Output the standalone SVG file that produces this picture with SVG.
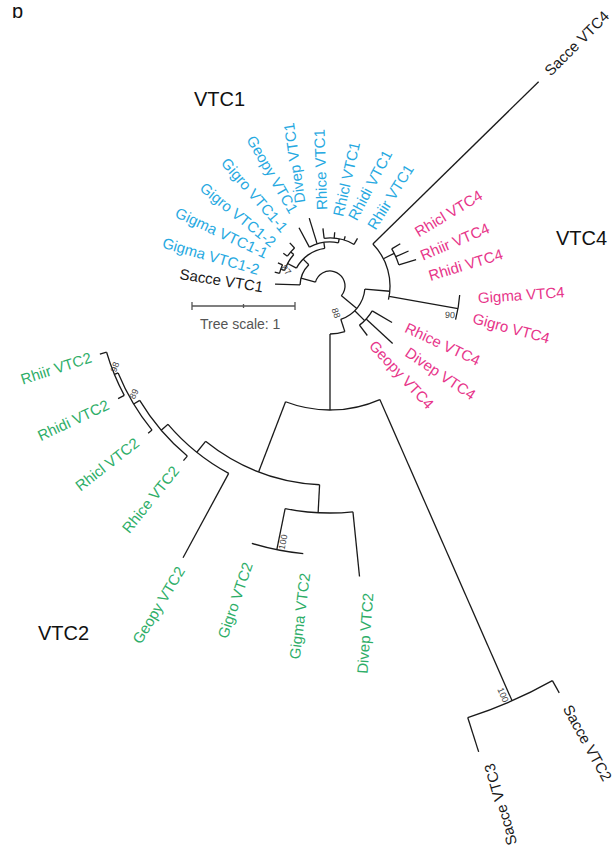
<svg xmlns="http://www.w3.org/2000/svg" width="613" height="852" viewBox="0 0 613 852">
<style>
.br line,.br circle{fill:none;stroke:#1a1a1a;stroke-width:1.3}
text{font-family:"Liberation Sans",Arial,sans-serif}
.lb{font-size:15px}
.e{text-anchor:end}
.v1{fill:#27a9e1}.v4{fill:#e7358a}.v2{fill:#2eae68}.k{fill:#1a1a1a}
.bs{font-size:9px;fill:#444;text-anchor:middle}
.grp{font-size:20px;fill:#111}
</style>
<defs><clipPath id="cut"><rect x="0" y="7" width="60" height="30"/></clipPath></defs>
<text x="12" y="18" font-size="20" fill="#111" clip-path="url(#cut)">b</text>

<!-- branches: polar layout around the root -->
<g id="branches" class="br" transform="translate(330,286)">
 <!-- root -->
 <circle r="15" transform="rotate(195)" stroke-dasharray="53.67 9999"/>
 <!-- VTC1 clade -->
 <line x1="15" x2="30" transform="rotate(195)"/>
 <circle r="30" transform="rotate(182)" stroke-dasharray="22.51 9999"/>
 <line x1="30" x2="55" transform="rotate(182)"/>
 <line x1="30" x2="38" transform="rotate(225)"/>
 <circle r="38" transform="rotate(208)" stroke-dasharray="35.81 9999"/>
 <line x1="38" x2="48" transform="rotate(208)"/>
 <circle r="48" transform="rotate(199)" stroke-dasharray="18.43 9999"/>
 <line x1="48" x2="52" transform="rotate(199)"/>
 <circle r="52" transform="rotate(194)" stroke-dasharray="9.08 9999"/>
 <line x1="52" x2="57" transform="rotate(194)"/>
 <line x1="52" x2="57" transform="rotate(204)"/>
 <line x1="48" x2="52" transform="rotate(221)"/>
 <circle r="52" transform="rotate(215)" stroke-dasharray="10.89 9999"/>
 <line x1="52" x2="57" transform="rotate(215)"/>
 <line x1="52" x2="59" transform="rotate(227)"/>
 <line x1="38" x2="44" transform="rotate(262)"/>
 <circle r="44" transform="rotate(242)" stroke-dasharray="29.95 9999"/>
 <line x1="44" x2="66" transform="rotate(242)"/>
 <line x1="44" x2="71" transform="rotate(253)"/>
 <line x1="44" x2="48" transform="rotate(281)"/>
 <circle r="48" transform="rotate(263)" stroke-dasharray="31 9999"/>
 <line x1="48" x2="58" transform="rotate(263)"/>
 <line x1="48" x2="54" transform="rotate(275)"/>
 <line x1="48" x2="52" transform="rotate(287)"/>
 <line x1="48" x2="55" transform="rotate(300)"/>
 <!-- right part of root -->
 <line x1="15" x2="35" transform="rotate(40)"/>
 <circle r="35" transform="rotate(5)" stroke-dasharray="40.93 9999"/>
 <!-- VTC4 clade -->
 <line x1="35" x2="60" transform="rotate(5)"/>
 <circle r="60" transform="rotate(-44.4)" stroke-dasharray="60.1 9999"/>
 <line x1="60" x2="292" transform="rotate(-44.4)"/>
 <line x1="60" x2="72" transform="rotate(-27)"/>
 <circle r="72" transform="rotate(-31)" stroke-dasharray="17.59 9999"/>
 <line x1="72" x2="82" transform="rotate(-31)"/>
 <line x1="72" x2="86" transform="rotate(-24)"/>
 <line x1="72" x2="90" transform="rotate(-17)"/>
 <line x1="60" x2="130" transform="rotate(10)"/>
 <circle r="130" transform="rotate(4)" stroke-dasharray="24.96 9999"/>
 <line x1="35" x2="49" transform="rotate(45)"/>
 <circle r="49" transform="rotate(30.5)" stroke-dasharray="19.24 9999"/>
 <line x1="49" x2="72" transform="rotate(30.5)"/>
 <line x1="49" x2="85" transform="rotate(42.5)"/>
 <line x1="49" x2="62" transform="rotate(53)"/>
 <!-- VTC2 + VTC3 -->
 <line x1="35" x2="48" transform="rotate(72)"/>
 <circle r="48" transform="rotate(72)" stroke-dasharray="15.08 9999"/>
 <line x1="48" x2="124" transform="rotate(90)"/>
 <circle r="124" transform="rotate(66.3)" stroke-dasharray="96.74 9999"/>
 <line x1="124" x2="453" transform="rotate(66.3)"/>
 <circle r="453" transform="rotate(60.6)" stroke-dasharray="92.5 9999"/>
 <line x1="453" x2="467" transform="rotate(60.6)"/>
 <line x1="453" x2="489" transform="rotate(72.3)"/>
 <line x1="124" x2="199" transform="rotate(111)"/>
 <circle r="199" transform="rotate(93)" stroke-dasharray="124 9999"/>
 <line x1="199" x2="227" transform="rotate(93)"/>
 <circle r="227" transform="rotate(84.2)" stroke-dasharray="68.14 9999"/>
 <line x1="227" x2="292" transform="rotate(84.2)"/>
 <line x1="227" x2="269" transform="rotate(101.4)"/>
 <circle r="269" transform="rotate(95.7)" stroke-dasharray="52.58 9999"/>
 <line x1="199" x2="213" transform="rotate(128.7)"/>
 <circle r="213" transform="rotate(118.4)" stroke-dasharray="78.44 9999"/>
 <line x1="213" x2="309" transform="rotate(118.4)"/>
 <line x1="213" x2="222" transform="rotate(139.5)"/>
 <circle r="222" transform="rotate(130)" stroke-dasharray="73.62 9999"/>
 <line x1="222" x2="228" transform="rotate(130)"/>
 <line x1="222" x2="229" transform="rotate(149)"/>
 <circle r="229" transform="rotate(141)" stroke-dasharray="66.75 9999"/>
 <line x1="229" x2="234" transform="rotate(141)"/>
 <line x1="229" x2="233" transform="rotate(157.7)"/>
 <circle r="233" transform="rotate(152)" stroke-dasharray="46.77 9999"/>
 <line x1="233" x2="240" transform="rotate(152)"/>
 <line x1="233" x2="240" transform="rotate(163.5)"/>
</g>

<!-- support values -->
<g id="support">
 <text class="bs" transform="translate(286,270) rotate(50)" dy="3">87</text>
 <text class="bs" transform="translate(336,313) rotate(72)" dy="3">88</text>
 <text class="bs" transform="translate(450,315) rotate(4)" dy="3">90</text>
 <text class="bs" transform="translate(115,367) rotate(-70)" dy="3">98</text>
 <text class="bs" transform="translate(134,394) rotate(-65)" dy="3">89</text>
 <text class="bs" transform="translate(283,542) rotate(-79)" dy="3">100</text>
 <text class="bs" transform="translate(503,695) rotate(66)" dy="3">100</text>
</g>

<!-- VTC1 leaves -->
<g id="sacce-vtc1"><text class="lb k e" transform="translate(263,287) rotate(9)" dy=".35em">Sacce VTC1</text></g>
<g id="gigma-vtc1-2"><text class="lb v1 e" transform="translate(259,270) rotate(16)" dy=".35em">Gigma VTC1-2</text></g>
<g id="gigma-vtc1-1"><text class="lb v1 e" transform="translate(267,254) rotate(25)" dy=".35em">Gigma VTC1-1</text></g>
<g id="gigro-vtc1-2"><text class="lb v1 e" transform="translate(274,244) rotate(39)" dy=".35em">Gigro VTC1-2</text></g>
<g id="gigro-vtc1-1"><text class="lb v1 e" transform="translate(285,230) rotate(49)" dy=".35em">Gigro VTC1-1</text></g>
<g id="geopy-vtc1"><text class="lb v1 e" transform="translate(294,212) rotate(60)" dy=".35em">Geopy VTC1</text></g>
<g id="divep-vtc1"><text class="lb v1" transform="translate(300,203) rotate(-98)" dy=".35em">Divep VTC1</text></g>
<g id="rhice-vtc1"><text class="lb v1" transform="translate(322,210) rotate(-92)" dy=".35em">Rhice VTC1</text></g>
<g id="rhicl-vtc1"><text class="lb v1" transform="translate(338,216) rotate(-77)" dy=".35em">Rhicl VTC1</text></g>
<g id="rhidi-vtc1"><text class="lb v1" transform="translate(352,219) rotate(-62)" dy=".35em">Rhidi VTC1</text></g>
<g id="rhiir-vtc1"><text class="lb v1" transform="translate(371,228) rotate(-58)" dy=".35em">Rhiir VTC1</text></g>

<!-- VTC4 leaves -->
<g id="sacce-vtc4"><text class="lb k" transform="translate(547,73) rotate(-45)" dy=".35em">Sacce VTC4</text></g>
<g id="rhicl-vtc4"><text class="lb v4" transform="translate(416,233) rotate(-31)" dy=".35em">Rhicl VTC4</text></g>
<g id="rhiir-vtc4"><text class="lb v4" transform="translate(421,256) rotate(-23)" dy=".35em">Rhiir VTC4</text></g>
<g id="rhidi-vtc4"><text class="lb v4" transform="translate(429,276) rotate(-17)" dy=".35em">Rhidi VTC4</text></g>
<g id="gigma-vtc4"><text class="lb v4" transform="translate(478,298) rotate(-4)" dy=".35em">Gigma VTC4</text></g>
<g id="gigro-vtc4"><text class="lb v4" transform="translate(473,318) rotate(15)" dy=".35em">Gigro VTC4</text></g>
<g id="rhice-vtc4"><text class="lb v4" transform="translate(406,327) rotate(25)" dy=".35em">Rhice VTC4</text></g>
<g id="divep-vtc4"><text class="lb v4" transform="translate(407,351) rotate(34)" dy=".35em">Divep VTC4</text></g>
<g id="geopy-vtc4"><text class="lb v4" transform="translate(372,343) rotate(47)" dy=".35em">Geopy VTC4</text></g>

<!-- VTC2 leaves -->
<g id="rhiir-vtc2"><text class="lb v2 e" transform="translate(91,357) rotate(-18)" dy=".35em">Rhiir VTC2</text></g>
<g id="rhidi-vtc2"><text class="lb v2 e" transform="translate(108,404) rotate(-25)" dy=".35em">Rhidi VTC2</text></g>
<g id="rhicl-vtc2"><text class="lb v2 e" transform="translate(137,441) rotate(-38)" dy=".35em">Rhicl VTC2</text></g>
<g id="rhice-vtc2"><text class="lb v2 e" transform="translate(176,468) rotate(-51)" dy=".35em">Rhice VTC2</text></g>
<g id="geopy-vtc2"><text class="lb v2 e" transform="translate(181,568) rotate(-59)" dy=".35em">Geopy VTC2</text></g>
<g id="gigro-vtc2"><text class="lb v2 e" transform="translate(248,563) rotate(-71)" dy=".35em">Gigro VTC2</text></g>
<g id="gigma-vtc2"><text class="lb v2 e" transform="translate(305,573) rotate(-83)" dy=".35em">Gigma VTC2</text></g>
<g id="divep-vtc2"><text class="lb v2 e" transform="translate(368,593) rotate(-86)" dy=".35em">Divep VTC2</text></g>

<!-- yeast VTC2 / VTC3 -->
<g id="sacce-vtc2"><text class="lb k" transform="translate(567,706) rotate(61)" dy=".35em">Sacce VTC2</text></g>
<g id="sacce-vtc3"><text class="lb k e" transform="translate(489,764) rotate(-106)" dy=".35em">Sacce VTC3</text></g>

<!-- clade names -->
<g id="clade-labels">
 <text class="grp" x="194" y="106">VTC1</text>
 <text class="grp" x="556" y="245">VTC4</text>
 <text class="grp" x="38" y="640">VTC2</text>
</g>

<!-- scale bar -->
<g id="scale" stroke="#555" stroke-width="1.3">
 <line x1="192" y1="306" x2="295" y2="306"/>
 <line x1="192" y1="302" x2="192" y2="310"/>
 <line x1="295" y1="302" x2="295" y2="310"/>
 <line x1="243.5" y1="304" x2="243.5" y2="308"/>
 <text x="200" y="329" font-size="14" fill="#555" stroke="none">Tree scale: 1</text>
</g>
</svg>
